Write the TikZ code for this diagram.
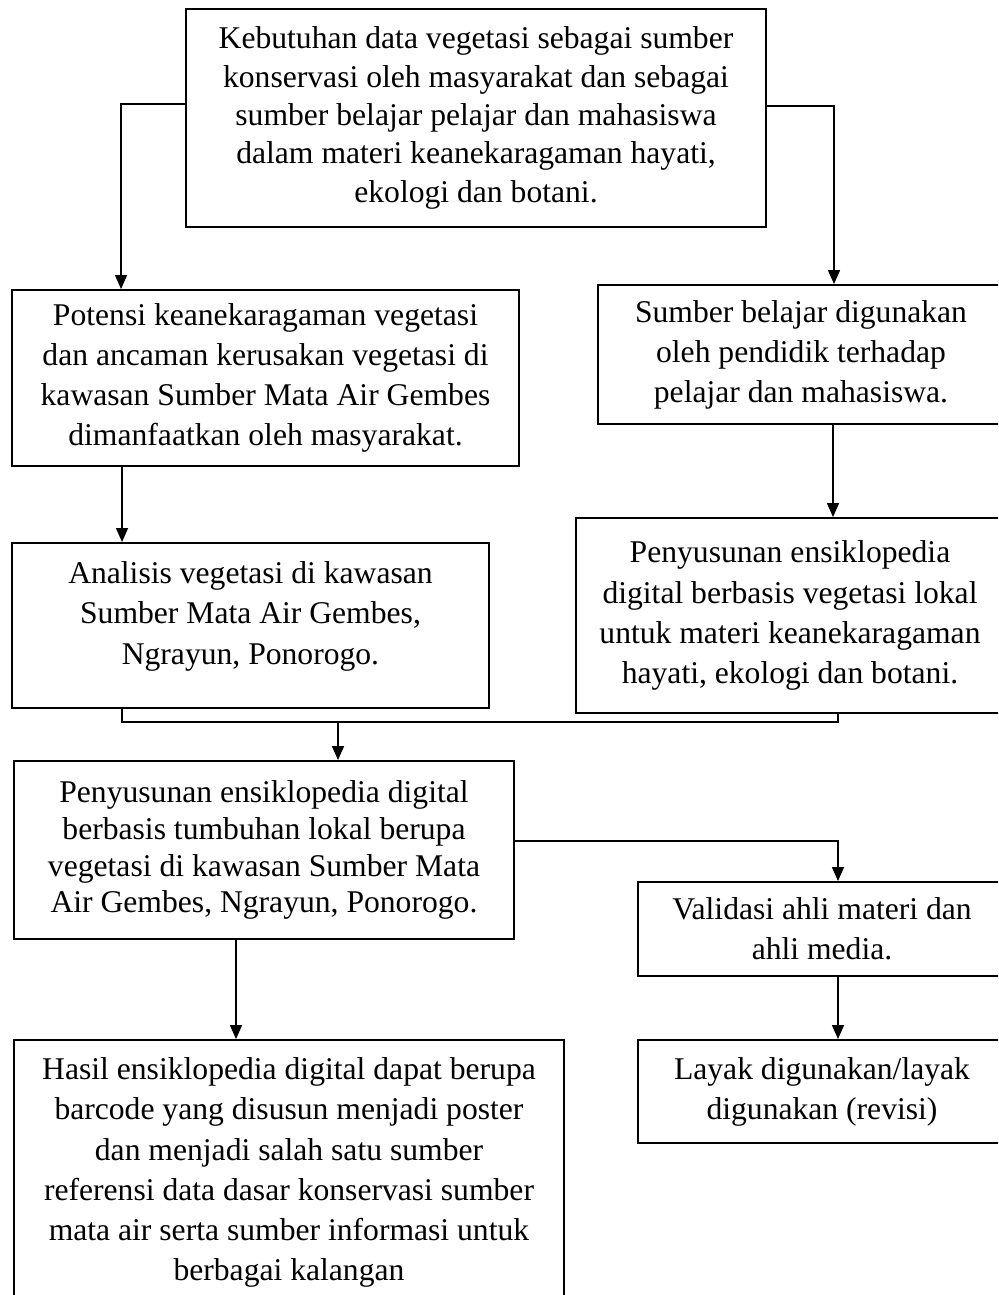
\documentclass[tikz,border=0pt]{standalone}
\usepackage{fontspec}
\setmainfont{Liberation Serif}
\usetikzlibrary{arrows.meta}

\begin{document}
\begin{tikzpicture}[
    x=0.02cm, y=-0.02cm,
    box/.style={rectangle, draw=black, line width=1.1pt, fill=white, align=center, inner sep=0pt, font=\fontsize{18}{22.8}\selectfont},
    flow/.style={-{Triangle[length=0.28cm, width=0.24cm]}, line width=0.8pt},
    link/.style={line width=0.8pt}
  ]
  \useasboundingbox (0,0) rectangle (998,1295);
  \clip (0,0) rectangle (998,1295);

  % Top box
  \node[box, minimum width=11.6cm, minimum height=4.36cm, font=\fontsize{18}{21.8}\selectfont] (need) at (476,118) {Kebutuhan data vegetasi sebagai sumber\\konservasi oleh masyarakat dan sebagai\\sumber belajar pelajar dan mahasiswa\\dalam materi keanekaragaman hayati,\\ekologi dan botani.};

  % Left column
  \node[box, minimum width=10.14cm, minimum height=3.52cm] (potensi) at (265.5,378) {Potensi keanekaragaman vegetasi\\dan ancaman kerusakan vegetasi di\\kawasan Sumber Mata Air Gembes\\dimanfaatkan oleh masyarakat.};
  \node[box, minimum width=9.54cm, minimum height=3.3cm] (analisis) at (250.5,625.5) {Analisis vegetasi di kawasan\\Sumber Mata Air Gembes,\\Ngrayun, Ponorogo.\\[-0.3cm]\mbox{}};
  \node[box, minimum width=10cm, minimum height=3.56cm, font=\fontsize{18}{21}\selectfont] (penyusunan) at (264,850) {Penyusunan ensiklopedia digital\\berbasis tumbuhan lokal berupa\\vegetasi di kawasan Sumber Mata\\Air Gembes, Ngrayun, Ponorogo.};
  \node[box, minimum width=11cm, minimum height=5.3cm] (hasil) at (289,1172.5) {Hasil ensiklopedia digital dapat berupa\\barcode yang disusun menjadi poster\\dan menjadi salah satu sumber\\referensi data dasar konservasi sumber\\mata air serta sumber informasi untuk\\berbagai kalangan};

  % Right column
  \node[box, minimum width=8.12cm, minimum height=2.78cm] (sumber) at (801,354.5) {Sumber belajar digunakan\\oleh pendidik terhadap\\pelajar dan mahasiswa.};
  \node[box, minimum width=8.56cm, minimum height=3.9cm] (ensiklo) at (790,615.5) {Penyusunan ensiklopedia\\digital berbasis vegetasi lokal\\untuk materi keanekaragaman\\hayati, ekologi dan botani.};
  \node[box, minimum width=7.36cm, minimum height=1.88cm] (validasi) at (822,929) {Validasi ahli materi dan\\ahli media.};
  \node[box, minimum width=7.36cm, minimum height=2.06cm] (layak) at (822,1091.5) {Layak digunakan/layak\\digunakan (revisi)};

  % Flows from the top
  \draw[flow] ([yshift=0.28cm]need.west) -| ([xshift=-2.89cm]potensi.north);
  \draw[flow] ([yshift=0.24cm]need.east) -| ([xshift=0.66cm]sumber.north);
  \draw[flow] ([xshift=-2.87cm]potensi.south) -- ([xshift=-2.87cm]potensi.south |- analisis.north);
  \draw[flow] ([xshift=0.64cm]sumber.south) -- ([xshift=0.64cm]sumber.south |- ensiklo.north);

  % Joining both branches
  \coordinate (join) at (338,722);
  \draw[link] ([xshift=-2.57cm]analisis.south) |- (join) -| ([xshift=0.96cm]ensiklo.south);
  \draw[flow] (join) -- (join |- penyusunan.north);

  % Lower flows
  \draw[flow] ([yshift=0.18cm]penyusunan.east) -| ([xshift=0.32cm]validasi.north);
  \draw[flow] ([xshift=0.32cm]validasi.south) -- ([xshift=0.32cm]layak.north);
  \draw[flow] ([xshift=-0.56cm]penyusunan.south) -- ([xshift=-0.56cm]penyusunan.south |- hasil.north);

\end{tikzpicture}
\end{document}
